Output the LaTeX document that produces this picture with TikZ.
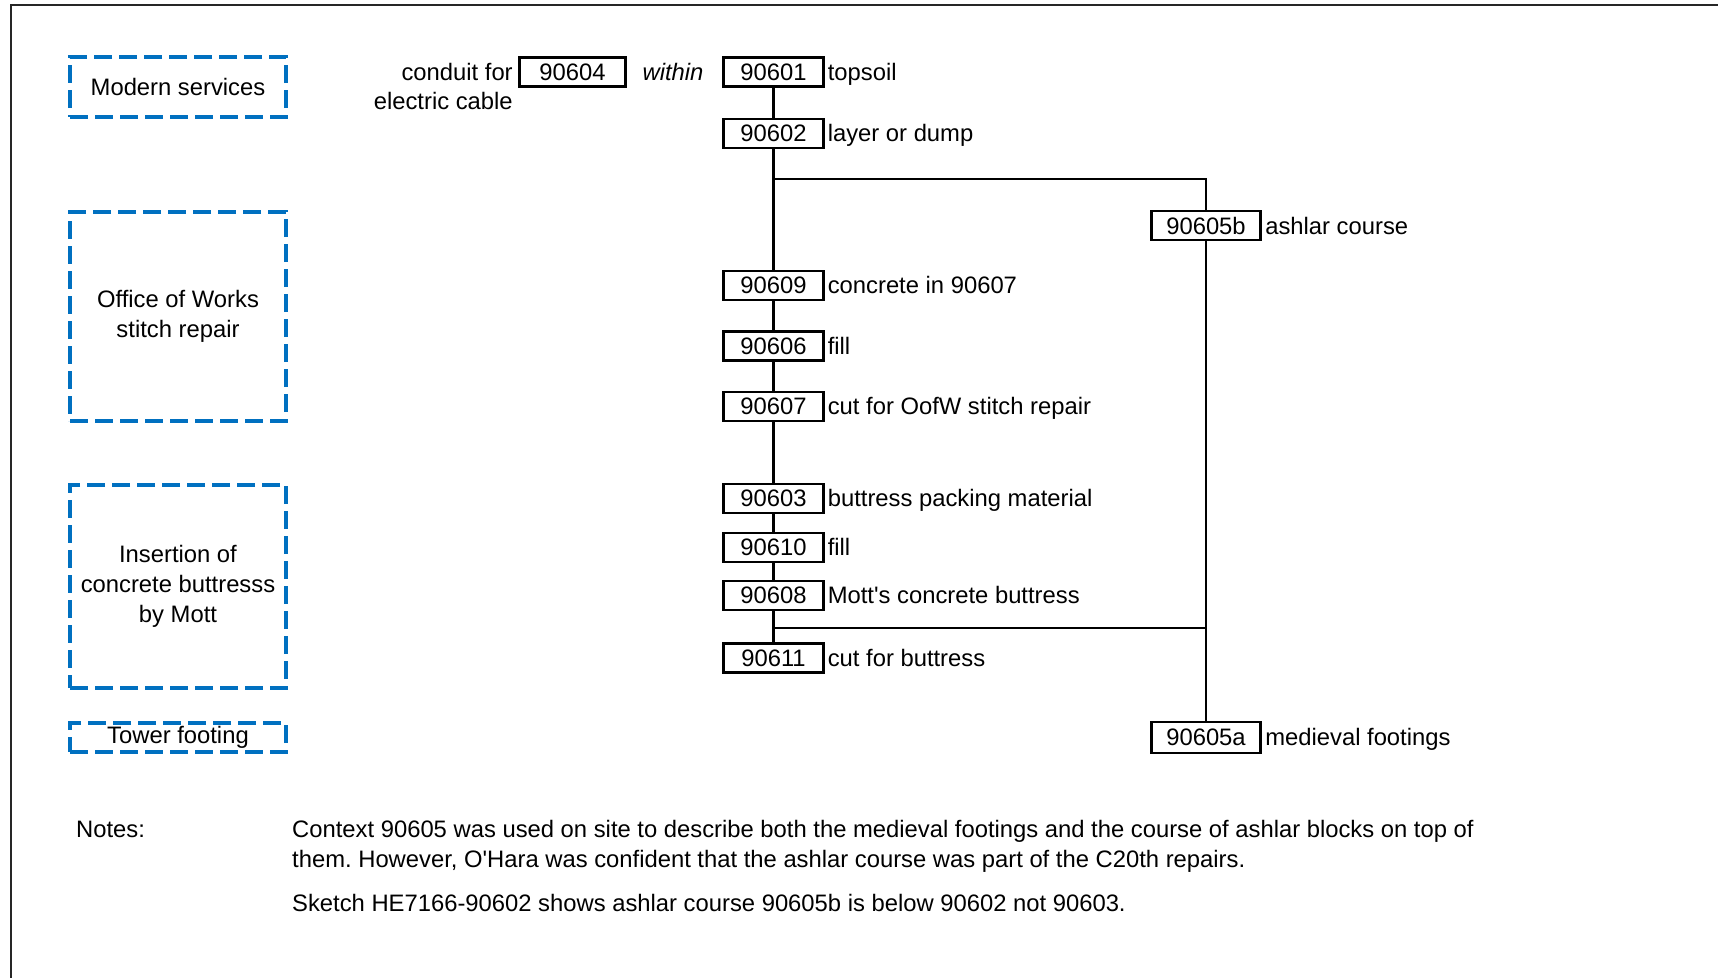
\documentclass[tikz,border=0pt]{standalone}
\usepackage{fontspec}
\setmainfont{Liberation Sans}
\usetikzlibrary{calc}
\definecolor{phaseblue}{RGB}{0,112,192}
\newcommand\dfont{\fontsize{23.8pt}{30pt}\selectfont\frenchspacing}
\begin{document}
\begin{tikzpicture}[x=1pt,y=-1pt,
  ctx/.style={draw, line width=2.7pt, minimum width=99.5pt, minimum height=29pt, inner sep=0pt, font=\dfont},
  widectx/.style={ctx, minimum width=109.5pt},
  lbl/.style={inner sep=0pt, anchor=base west, font=\dfont},
  phase/.style={draw=phaseblue, line width=4.3pt, dash pattern=on 18pt off 7pt, minimum width=216pt, inner sep=0pt, align=center, font=\dfont},
  conn/.style={line width=2.6pt},
  frame/.style={line width=2pt, draw=black!85}]
\useasboundingbox (0,0) rectangle (1718,978);
\draw[frame] (1718,5) -- (11,5) -- (11,978);

% phase boxes
\node[phase, minimum height=60pt] (pmod) at (178,87) {Modern services};
\node[phase, minimum height=209pt] (pow) at (178,316.5) {Office of Works\\stitch repair};
\node[phase, minimum height=203pt] (pins) at (178,586.5) {Insertion of\\concrete buttresss\\by Mott};
\node[phase, minimum height=29pt] (ptow) at (178,737.5) {Tower footing};

% contexts
\node[ctx] (b90601) at (773.5,72) {90601};
\node[ctx] (b90602) at (773.5,133.5) {90602};
\node[ctx] (b90609) at (773.5,285.5) {90609};
\node[ctx] (b90606) at (773.5,346) {90606};
\node[ctx] (b90607) at (773.5,406.5) {90607};
\node[ctx] (b90603) at (773.5,498.5) {90603};
\node[ctx] (b90610) at (773.5,547.5) {90610};
\node[ctx] (b90608) at (773.5,595.5) {90608};
\node[ctx] (b90611) at (773.5,658) {90611};
\node[widectx] (b90605b) at (1206,225.5) {90605b};
\node[widectx, minimum height=31pt] (b90605a) at (1206,737.5) {90605a};
\node[ctx, minimum width=106.5pt] (b90604) at (572.5,72) {90604};

% descriptions
\node[lbl] (l90601) at ([xshift=3pt]b90601.base east) {topsoil};
\node[lbl] (l90602) at ([xshift=3pt]b90602.base east) {layer or dump};
\node[lbl] (l90609) at ([xshift=3pt]b90609.base east) {concrete in 90607};
\node[lbl] (l90606) at ([xshift=3pt]b90606.base east) {fill};
\node[lbl] (l90607) at ([xshift=3pt]b90607.base east) {cut for OofW stitch repair};
\node[lbl] (l90603) at ([xshift=3pt]b90603.base east) {buttress packing material};
\node[lbl] (l90610) at ([xshift=3pt]b90610.base east) {fill};
\node[lbl] (l90608) at ([xshift=3pt]b90608.base east) {Mott\textquotesingle s concrete buttress};
\node[lbl] (l90611) at ([xshift=3pt]b90611.base east) {cut for buttress};
\node[lbl] (l90605b) at ([xshift=3pt]b90605b.base east) {ashlar course};
\node[lbl] (l90605a) at ([xshift=3pt]b90605a.base east) {medieval footings};
\node[lbl, anchor=base east] (l90604a) at ([xshift=-5pt]b90604.base west) {conduit for};
\node[lbl, anchor=base east] (l90604b) at ([yshift=-29pt]l90604a.base east) {electric cable};
\node[lbl, anchor=base, font=\dfont\itshape] (within) at (b90601.base -| 673,0) {within};

% connectors
\draw[conn] (b90601) -- (b90602);
\draw[conn] (b90602) -- (b90609);
\coordinate (j1) at (b90602.south |- 0,179);
\draw[conn] (j1) -| (b90605b.north);
\draw[conn] (b90609) -- (b90606);
\draw[conn] (b90606) -- (b90607);
\draw[conn] (b90607) -- (b90603);
\draw[conn] (b90603) -- (b90610);
\draw[conn] (b90610) -- (b90608);
\draw[conn] (b90608) -- (b90611);
\draw[conn] (b90605b) -- (b90605a);
\coordinate (j2) at (b90608.south |- 0,628);
\draw[conn] (j2) -- (j2 -| b90605a.north);

% notes
\node[lbl] (notes) at (76,837) {Notes:};
\node[lbl, align=left] (notetext) at (292,911) {Context 90605 was used on site to describe both the medieval footings and the course of ashlar blocks on top of\\them. However, O\textquotesingle Hara was confident that the ashlar course was part of the C20th repairs.\\[14pt]Sketch HE7166-90602 shows ashlar course 90605b is below 90602 not 90603.};
\end{tikzpicture}
\end{document}
